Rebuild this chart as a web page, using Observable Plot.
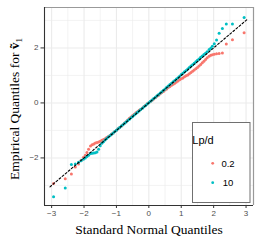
<!DOCTYPE html>
<html><head><meta charset="utf-8">
<script src="https://cdn.jsdelivr.net/npm/d3@7"></script>
<script src="https://cdn.jsdelivr.net/npm/@observablehq/plot@0.6"></script>
<style>body{margin:0;background:#fff} svg{display:block}</style>
</head><body><div id="chart"></div>
<script>
const groups = ["0.2", "10"];
const colors = ["#F8766D", "#00BFC4"];
const theoretical = [-2.94,-2.58,-2.39,-2.27,-2.17,-2.09,-2.02,-1.96,-1.91,-1.86,
 -1.80,-1.75,-1.70,-1.65,-1.60,-1.55,-1.50,-1.45,-1.40,-1.35,-1.30,-1.25,-1.20,-1.15,-1.10,-1.05,-1.00,-0.95,-0.90,-0.85,-0.80,-0.75,-0.70,-0.65,-0.60,-0.55,-0.50,-0.45,-0.40,-0.35,-0.30,-0.25,-0.20,-0.15,-0.10,-0.05,
 0.00,0.05,0.10,0.15,0.20,0.25,0.30,0.35,0.40,0.45,0.50,0.55,0.60,0.65,0.70,0.75,0.80,0.85,0.90,0.95,1.00,1.05,1.10,1.15,1.20,1.25,1.30,1.35,1.40,1.45,1.50,1.55,1.60,1.65,1.70,1.75,1.80,
 1.86,1.91,1.96,2.02,2.09,2.17,2.27,2.39,2.58,2.94];
const lp02 = [-2.93,-2.76,-2.58,-2.33,-2.22,-2.08,-1.98,-1.90,-1.80,-1.68,
 -1.57,-1.52,-1.49,-1.46,-1.44,-1.42,-1.39,-1.36,-1.33,-1.30,-1.26,-1.22,-1.18,-1.13,-1.09,-1.04,-0.99,-0.94,-0.89,-0.84,-0.79,-0.73,-0.68,-0.62,-0.56,-0.51,-0.46,-0.41,-0.36,-0.32,-0.27,-0.23,-0.18,-0.13,-0.08,-0.03,
 0.01,0.05,0.10,0.14,0.19,0.24,0.28,0.33,0.38,0.42,0.47,0.51,0.56,0.60,0.64,0.68,0.72,0.76,0.80,0.84,0.88,0.91,0.95,0.99,1.02,1.06,1.11,1.15,1.20,1.24,1.29,1.34,1.40,1.46,1.52,1.58,1.64,
 1.70,1.73,1.75,1.77,1.79,1.80,1.82,2.14,2.30,2.55];
const lp10 = [-3.41,-3.09,-2.24,-2.22,-2.16,-2.10,-2.05,-2.00,-1.95,-1.90,
 -1.84,-1.83,-1.82,-1.81,-1.78,-1.68,-1.56,-1.47,-1.41,-1.35,-1.29,-1.24,-1.19,-1.14,-1.09,-1.04,-0.99,-0.94,-0.89,-0.84,-0.79,-0.74,-0.69,-0.64,-0.59,-0.54,-0.49,-0.44,-0.39,-0.34,-0.29,-0.24,-0.19,-0.14,-0.09,-0.04,
 0.01,0.06,0.11,0.16,0.21,0.26,0.31,0.36,0.41,0.46,0.51,0.57,0.62,0.67,0.72,0.77,0.82,0.87,0.92,0.97,1.03,1.08,1.13,1.18,1.23,1.29,1.34,1.39,1.44,1.50,1.55,1.60,1.66,1.71,1.76,1.81,1.86,
 1.94,1.99,2.06,2.15,2.29,2.53,2.71,2.87,2.87,3.11];
const refLine = [-3.05, 3.05];
const xTicks = [-3, -2, -1, 0, 1, 2, 3];
const yTicks = [-2, 0, 2];
const xMinor = [-2.5, -1.5, -0.5, 0.5, 1.5, 2.5];
const yMinor = [-3, -1, 1, 3];
const xDomain = [-3.22, 3.23];
const yDomain = [-3.73, 3.47];
const xTitle = "Standard Normal Quantiles";
const yTitle = "Empirical Quantiles for ";
const legendTitle = "Lp/d";

const series = [lp02, lp10];
const data = groups.flatMap((g, k) => theoretical.map((t, i) => ({group: g, theo: t, sample: series[k][i]})));
const lineData = refLine.map(v => ({v}));

const serif = "'Liberation Serif', 'Times New Roman', serif";
const sans = "'Liberation Sans', Arial, sans-serif";

const plot = Plot.plot({
  width: 256, height: 249,
  marginLeft: 44, marginRight: 3, marginTop: 7, marginBottom: 44,
  x: {domain: xDomain, label: null},
  y: {domain: yDomain, label: null},
  color: {domain: groups, range: colors},
  style: {fontFamily: sans, background: "#fff"},
  marks: [
    Plot.ruleX(xMinor, {stroke: "#EBEBEB", strokeWidth: 0.6}),
    Plot.ruleY(yMinor, {stroke: "#EBEBEB", strokeWidth: 0.6}),
    Plot.ruleX(xTicks, {stroke: "#EBEBEB", strokeWidth: 1.1}),
    Plot.ruleY(yTicks, {stroke: "#EBEBEB", strokeWidth: 1.1}),
    Plot.dot(data, {x: "theo", y: "sample", fill: "group", r: 1.5}),
    Plot.line(lineData, {x: "v", y: "v", stroke: "black", strokeWidth: 1.1, strokeDasharray: "2,2"}),
    Plot.ruleX([xDomain[1]], {stroke: "#999", strokeWidth: 1.2}),
    Plot.ruleY([yDomain[1]], {stroke: "#999", strokeWidth: 1.2}),
    Plot.ruleX([xDomain[0]], {stroke: "#333", strokeWidth: 1.1}),
    Plot.ruleY([yDomain[0]], {stroke: "#333", strokeWidth: 1.1}),
    Plot.axisX(xTicks, {tickSize: 3, tickPadding: 2, fontSize: 8, fill: "#4D4D4D", stroke: "#333", label: null}),
    Plot.axisY(yTicks, {tickSize: 3.5, tickPadding: 2.5, fontSize: 8, fill: "#4D4D4D", stroke: "#333", label: null}),
    Plot.text([xTitle], {frameAnchor: "bottom", lineAnchor: "bottom", dy: 28, fontFamily: serif, fontSize: 13.5, fill: "black"}),
    Plot.text([yTitle], {frameAnchor: "left", textAnchor: "middle", lineAnchor: "bottom", rotate: -90, dx: -26, dy: 2.5, fontFamily: serif, fontSize: 13.5, fill: "black", className: "ytitle"})
  ]
});

const svg = d3.select(plot);
// y title: bold v with tilde and subscript 1
const yt = svg.select(".ytitle text");
yt.text(null);
yt.append("tspan").text(yTitle);
yt.append("tspan").attr("font-weight", "bold").text("v\u0303");
yt.append("tspan").attr("font-size", 9).attr("dy", 3).text("1");

// legend inside the panel
const lg = svg.append("g").attr("font-family", sans);
lg.append("rect").attr("x", 192.5).attr("y", 122.5).attr("width", 57.5).attr("height", 80)
  .attr("fill", "white").attr("stroke", "#707070").attr("stroke-width", 1);
lg.append("text").attr("x", 203).attr("y", 143.5).attr("font-size", 11).attr("fill", "black").text(legendTitle);
groups.forEach((g, k) => {
  const cy = 163.3 + k * 19.4;
  lg.append("circle").attr("cx", 212.7).attr("cy", cy).attr("r", 1.4).attr("fill", colors[k]);
  lg.append("text").attr("x", 228).attr("y", cy + 3.3).attr("font-size", 9.5).attr("fill", "black").text(g);
});

document.getElementById("chart").appendChild(plot);
</script>
</body></html>
